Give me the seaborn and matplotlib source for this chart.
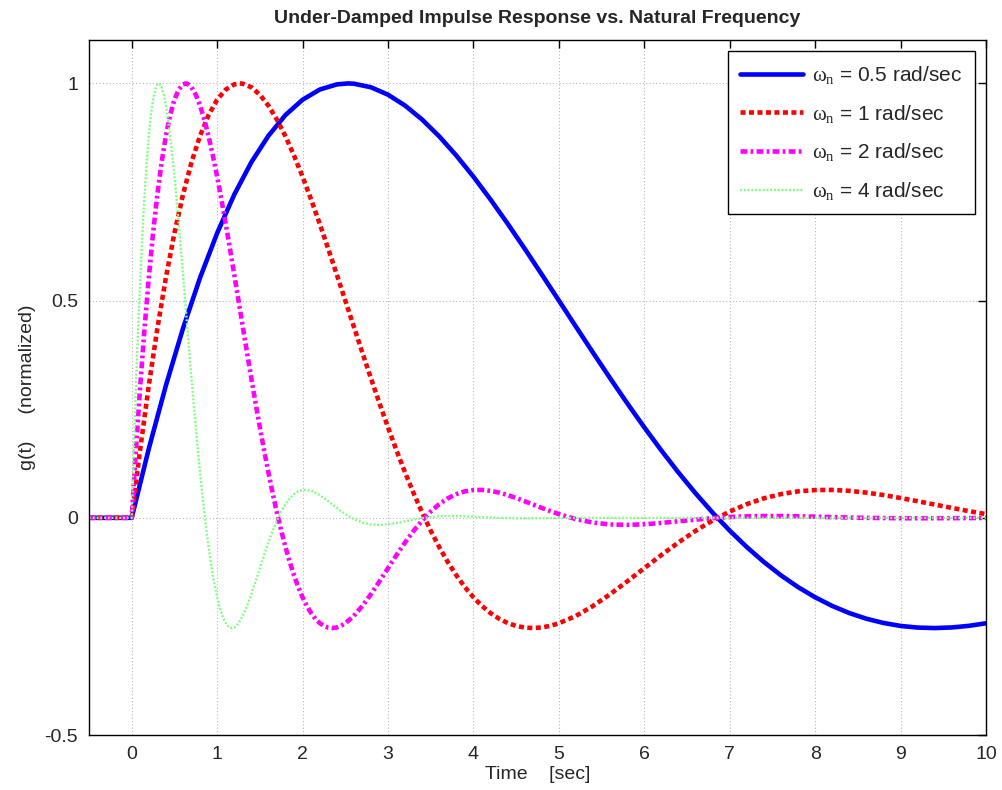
import numpy as np
import pandas as pd
import matplotlib
matplotlib.use("Agg")
import matplotlib.pyplot as plt
import seaborn as sns

# ---------------- data ----------------
series_labels = [r"$\omega_n$ = 0.5 rad/sec", r"$\omega_n$ = 1 rad/sec",
                 r"$\omega_n$ = 2 rad/sec", r"$\omega_n$ = 4 rad/sec"]

# omega_n = 0.5 rad/sec
t_w05 = [-0.5, 0.0, 0.2, 0.4, 0.6, 0.8, 1.0, 1.2, 1.4, 1.6, 1.8, 2.0, 2.2, 2.4, 2.53,
         2.6, 2.8, 3.0, 3.2, 3.4, 3.6, 3.8, 4.0, 4.2, 4.4, 4.6, 4.8, 5.0, 5.2, 5.4, 5.6,
         5.8, 6.0, 6.2, 6.4, 6.6, 6.8, 7.0, 7.2, 7.4, 7.6, 7.8, 8.0, 8.2, 8.4, 8.6, 8.8,
         9.0, 9.2, 9.4, 9.6, 9.8, 10.0]
g_w05 = [0, 0, 0.1591, 0.3045, 0.4358, 0.5527, 0.6554, 0.7439, 0.8185, 0.8794, 0.9273,
         0.9625, 0.9858, 0.9978, 1.0, 0.9994, 0.9912, 0.9741, 0.9490, 0.9167, 0.8781,
         0.8340, 0.7853, 0.7328, 0.6773, 0.6196, 0.5603, 0.5003, 0.4400, 0.3802, 0.3213,
         0.2638, 0.2083, 0.1550, 0.1043, 0.0565, 0.0118, -0.0295, -0.0674, -0.1017,
         -0.1324, -0.1595, -0.1830, -0.2029, -0.2193, -0.2323, -0.2421, -0.2489, -0.2527,
         -0.2538, -0.2524, -0.2487, -0.2428]

# omega_n = 1 rad/sec
t_w1 = [-0.5, 0.0, 0.1, 0.2, 0.3, 0.4, 0.5, 0.6, 0.7, 0.8, 0.9, 1.0, 1.1, 1.2, 1.265,
        1.3, 1.4, 1.5, 1.6, 1.7, 1.8, 1.9, 2.0, 2.1, 2.2, 2.3, 2.4, 2.5, 2.6, 2.7, 2.8,
        2.9, 3.0, 3.1, 3.2, 3.3, 3.4, 3.5, 3.6, 3.7, 3.8, 3.9, 4.0, 4.1, 4.2, 4.3, 4.4,
        4.5, 4.6, 4.7, 4.8, 4.9, 5.0,
        5.2, 5.4, 5.6, 5.8, 6.0, 6.2, 6.4, 6.6, 6.8, 7.0, 7.2, 7.4, 7.6, 7.8, 8.0, 8.2,
        8.4, 8.6, 8.8, 9.0, 9.2, 9.4, 9.6, 9.8, 10.0]
g_w1 = [0, 0, 0.1591, 0.3045, 0.4358, 0.5527, 0.6554, 0.7439, 0.8185, 0.8794, 0.9273,
        0.9625, 0.9858, 0.9978, 1.0, 0.9994, 0.9912, 0.9741, 0.9490, 0.9167, 0.8781,
        0.8340, 0.7853, 0.7328, 0.6773, 0.6196, 0.5603, 0.5003, 0.4400, 0.3802, 0.3213,
        0.2638, 0.2083, 0.1550, 0.1043, 0.0565, 0.0118, -0.0295, -0.0674, -0.1017,
        -0.1324, -0.1595, -0.1830, -0.2029, -0.2193, -0.2323, -0.2421, -0.2489, -0.2527,
        -0.2538, -0.2524, -0.2487, -0.2428,
        -0.2258, -0.2029, -0.1759, -0.1464, -0.1159, -0.0857, -0.0567, -0.0300, -0.0061,
        0.0145, 0.0315, 0.0449, 0.0546, 0.0609, 0.0639, 0.0642, 0.0621, 0.0580, 0.0524,
        0.0456, 0.0382, 0.0305, 0.0228, 0.0154, 0.0085]

# omega_n = 2 rad/sec
t_w2 = [-0.5, 0.0, 0.05, 0.10, 0.15, 0.20, 0.25, 0.30, 0.35, 0.40, 0.45, 0.50, 0.55,
        0.60, 0.6325, 0.65, 0.70, 0.75, 0.80, 0.85, 0.90, 0.95, 1.00, 1.05, 1.10, 1.15,
        1.20, 1.25, 1.30, 1.35, 1.40, 1.45, 1.50, 1.55, 1.60, 1.65, 1.70, 1.75, 1.80,
        1.85, 1.90, 1.95, 2.00, 2.05, 2.10, 2.15, 2.20, 2.25, 2.30, 2.35, 2.40, 2.45, 2.50,
        2.6, 2.7, 2.8, 2.9, 3.0, 3.1, 3.2, 3.3, 3.4, 3.5, 3.6, 3.7, 3.8, 3.9, 4.0, 4.1,
        4.2, 4.3, 4.4, 4.5, 4.6, 4.7, 4.8, 4.9, 5.0,
        5.2, 5.4, 5.6, 5.8, 6.0, 6.2, 6.4, 6.6, 6.8, 7.0, 7.2, 7.4, 7.6, 7.8, 8.0, 8.2,
        8.4, 8.6, 9.0, 9.4, 9.8, 10.0]
g_w2 = [0, 0, 0.1591, 0.3045, 0.4358, 0.5527, 0.6554, 0.7439, 0.8185, 0.8794, 0.9273,
        0.9625, 0.9858, 0.9978, 1.0, 0.9994, 0.9912, 0.9741, 0.9490, 0.9167, 0.8781,
        0.8340, 0.7853, 0.7328, 0.6773, 0.6196, 0.5603, 0.5003, 0.4400, 0.3802, 0.3213,
        0.2638, 0.2083, 0.1550, 0.1043, 0.0565, 0.0118, -0.0295, -0.0674, -0.1017,
        -0.1324, -0.1595, -0.1830, -0.2029, -0.2193, -0.2323, -0.2421, -0.2489, -0.2527,
        -0.2538, -0.2524, -0.2487, -0.2428,
        -0.2258, -0.2029, -0.1759, -0.1464, -0.1159, -0.0857, -0.0567, -0.0300, -0.0061,
        0.0145, 0.0315, 0.0449, 0.0546, 0.0609, 0.0639, 0.0642, 0.0621, 0.0580, 0.0524,
        0.0456, 0.0382, 0.0305, 0.0228, 0.0154, 0.0085,
        -0.0030, -0.0110, -0.0153, -0.0163, -0.0149, -0.0118, -0.0080, -0.0042, -0.0008,
        0.0018, 0.0034, 0.0041, 0.0041, 0.0035, 0.0026, 0.0016, 0.0007, -0.0001,
        -0.0010, -0.0010, -0.0006, -0.0003]

# omega_n = 4 rad/sec
t_w4 = [-0.5, 0.0, 0.025, 0.050, 0.075, 0.100, 0.125, 0.150, 0.175, 0.200, 0.225, 0.250,
        0.275, 0.300, 0.316, 0.325, 0.350, 0.375, 0.400, 0.425, 0.450, 0.475, 0.500,
        0.525, 0.550, 0.575, 0.600, 0.625, 0.650, 0.675, 0.700, 0.725, 0.750, 0.775,
        0.800, 0.825, 0.850, 0.875, 0.900, 0.925, 0.950, 0.975, 1.000, 1.025, 1.050,
        1.075, 1.100, 1.125, 1.150, 1.175, 1.200, 1.225, 1.250,
        1.30, 1.35, 1.40, 1.45, 1.50, 1.55, 1.60, 1.65, 1.70, 1.75, 1.80, 1.85, 1.90,
        1.95, 2.00, 2.05, 2.10, 2.15, 2.20, 2.25, 2.30, 2.35, 2.40, 2.45, 2.50,
        2.6, 2.7, 2.8, 2.9, 3.0, 3.1, 3.2, 3.3, 3.4, 3.5, 3.6, 3.7, 3.8, 3.9, 4.0, 4.1,
        4.2, 4.3, 4.5, 4.7, 4.9, 5.0, 10.0]
g_w4 = [0, 0, 0.1591, 0.3045, 0.4358, 0.5527, 0.6554, 0.7439, 0.8185, 0.8794, 0.9273,
        0.9625, 0.9858, 0.9978, 1.0, 0.9994, 0.9912, 0.9741, 0.9490, 0.9167, 0.8781,
        0.8340, 0.7853, 0.7328, 0.6773, 0.6196, 0.5603, 0.5003, 0.4400, 0.3802, 0.3213,
        0.2638, 0.2083, 0.1550, 0.1043, 0.0565, 0.0118, -0.0295, -0.0674, -0.1017,
        -0.1324, -0.1595, -0.1830, -0.2029, -0.2193, -0.2323, -0.2421, -0.2489, -0.2527,
        -0.2538, -0.2524, -0.2487, -0.2428,
        -0.2258, -0.2029, -0.1759, -0.1464, -0.1159, -0.0857, -0.0567, -0.0300, -0.0061,
        0.0145, 0.0315, 0.0449, 0.0546, 0.0609, 0.0639, 0.0642, 0.0621, 0.0580, 0.0524,
        0.0456, 0.0382, 0.0305, 0.0228, 0.0154, 0.0085,
        -0.0030, -0.0110, -0.0153, -0.0163, -0.0149, -0.0118, -0.0080, -0.0042, -0.0008,
        0.0018, 0.0034, 0.0041, 0.0041, 0.0035, 0.0026, 0.0016, 0.0007, -0.0001,
        -0.0010, -0.0010, -0.0006, -0.0003, 0.0]

x_ticks = [0, 1, 2, 3, 4, 5, 6, 7, 8, 9, 10]
y_ticks = [-0.5, 0, 0.5, 1]
y_tick_labels = ["-0.5", "0", "0.5", "1"]

# ---------------- styling ----------------
sns.set_theme(style="white")
plt.rcParams["font.family"] = ["Liberation Sans", "DejaVu Sans"]
plt.rcParams["mathtext.fontset"] = "custom"
plt.rcParams["mathtext.rm"] = "Liberation Serif"
plt.rcParams["mathtext.it"] = "Liberation Serif"

fig = plt.figure(figsize=(10.02, 7.90), dpi=100)
fig.patch.set_facecolor("white")
ax = fig.add_axes([89 / 1002, 55 / 790, (986 - 89) / 1002, (735 - 40) / 790])
ax.set_facecolor("white")

styles = [
    dict(color="#0000ff", lw=3.3, linestyle="-"),
    dict(color="#ff0000", lw=3.3, dashes=(1.1, 0.75)),
    dict(color="#ff00ff", lw=3.3, dashes=(1.5, 0.7, 0.6, 0.7)),
    dict(color="#7dff7d", lw=1.7, dashes=(0.8, 0.8)),
]
series = [(t_w05, g_w05), (t_w1, g_w1), (t_w2, g_w2), (t_w4, g_w4)]

for (t, g), lab, st in zip(series, series_labels, styles):
    df = pd.DataFrame({"t": t, "g": g})
    sns.lineplot(data=df, x="t", y="g", ax=ax, label=lab, estimator=None,
                 sort=False, **st)

ax.set_xlim(-0.5, 10)
ax.set_ylim(-0.5, 1.1)
ax.set_xticks(x_ticks)
ax.set_xticklabels([str(v) for v in x_ticks])
ax.set_yticks(y_ticks)
ax.set_yticklabels(y_tick_labels)
ax.tick_params(axis="both", which="both", direction="in", length=6, width=1,
               top=True, right=True, labelsize=14, color="black", pad=8)
ax.grid(True, color="#b8b8b8", linestyle=(0, (1, 2)), linewidth=0.8)
for sp in ax.spines.values():
    sp.set_color("black")
    sp.set_linewidth(1.0)

ax.set_title("Under-Damped Impulse Response vs. Natural Frequency",
             fontsize=14, fontweight="bold", pad=12)
ax.set_xlabel("Time    [sec]", fontsize=14, labelpad=2)
ax.set_ylabel("g(t)     (normalized)", fontsize=14, labelpad=6)

leg = ax.legend(loc="upper right", fontsize=15,
                frameon=True, fancybox=False, framealpha=1, edgecolor="black",
                handlelength=3.0, handletextpad=0.45, borderpad=0.6,
                labelspacing=0.8, borderaxespad=0.55)
leg.get_frame().set_linewidth(1.0)

fig.savefig("out.png", dpi=100, facecolor="white")
